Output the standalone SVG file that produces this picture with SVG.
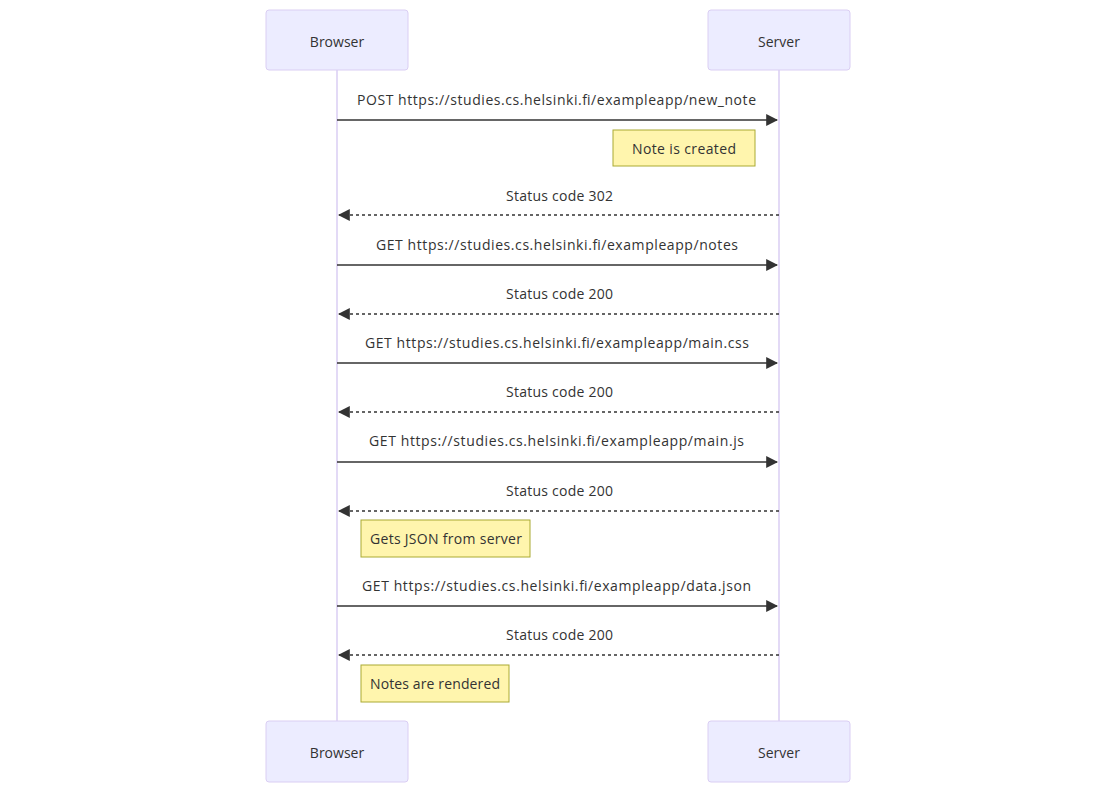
<svg xmlns="http://www.w3.org/2000/svg" width="1116" height="793" viewBox="0 0 1116 793">
  <style>
    .actor { fill: #ECECFF; stroke: #DACEF3; stroke-width: 1; }
    .actor-text { font-family: "Open Sans", "DejaVu Sans", sans-serif; font-size: 14px; fill: #333; text-anchor: middle; dominant-baseline: central; }
    .lifeline { stroke: #DACEF3; stroke-width: 1.5; }
    .msg { stroke: #333; stroke-width: 1.5; fill: none; }
    .reply { stroke-dasharray: 3 3; }
    .msg-text { font-family: "Open Sans", "DejaVu Sans", sans-serif; font-size: 14px; fill: #333; text-anchor: middle; dominant-baseline: central; }
    .note { fill: #FFF5AD; stroke: #AAAA33; stroke-width: 1; }
    .note-text { font-family: "Open Sans", "DejaVu Sans", sans-serif; font-size: 14px; fill: #333; text-anchor: middle; dominant-baseline: central; }
  </style>
  <defs>
    <marker id="arrowhead" markerWidth="12" markerHeight="12" refX="9" refY="5" viewBox="0 0 10 10" orient="auto-start-reverse" markerUnits="userSpaceOnUse">
      <path d="M0,0 L10,5 L0,10 z" fill="#333"/>
    </marker>
  </defs>
  <rect width="1116" height="793" fill="#fff"/>

  <g id="lifelines">
    <line class="lifeline" x1="337" y1="70" x2="337" y2="721"/>
    <line class="lifeline" x1="779" y1="70" x2="779" y2="721"/>
  </g>

  <g id="browser-top">
    <rect class="actor" x="266" y="10" width="142" height="60" rx="3"/>
    <text class="actor-text" x="337" y="41">Browser</text>
  </g>
  <g id="server-top">
    <rect class="actor" x="708" y="10" width="142" height="60" rx="3"/>
    <text class="actor-text" x="779" y="41">Server</text>
  </g>
  <g id="browser-bottom">
    <rect class="actor" x="266" y="721" width="142" height="61" rx="3"/>
    <text class="actor-text" x="337" y="752">Browser</text>
  </g>
  <g id="server-bottom">
    <rect class="actor" x="708" y="721" width="142" height="61" rx="3"/>
    <text class="actor-text" x="779" y="752">Server</text>
  </g>

  <g id="connectors">
    <line class="msg" x1="337" y1="120" x2="777" y2="120" marker-end="url(#arrowhead)"/>
    <line class="msg reply" x1="779" y1="215" x2="339" y2="215" marker-end="url(#arrowhead)"/>
    <line class="msg" x1="337" y1="265" x2="777" y2="265" marker-end="url(#arrowhead)"/>
    <line class="msg reply" x1="779" y1="314" x2="339" y2="314" marker-end="url(#arrowhead)"/>
    <line class="msg" x1="337" y1="363" x2="777" y2="363" marker-end="url(#arrowhead)"/>
    <line class="msg reply" x1="779" y1="412" x2="339" y2="412" marker-end="url(#arrowhead)"/>
    <line class="msg" x1="337" y1="462" x2="777" y2="462" marker-end="url(#arrowhead)"/>
    <line class="msg reply" x1="779" y1="511" x2="339" y2="511" marker-end="url(#arrowhead)"/>
    <line class="msg" x1="337" y1="606" x2="777" y2="606" marker-end="url(#arrowhead)"/>
    <line class="msg reply" x1="779" y1="655" x2="339" y2="655" marker-end="url(#arrowhead)"/>
  </g>

  <g id="message-labels">
    <text class="msg-text" x="556.5" y="99" textLength="399" lengthAdjust="spacing">POST https://studies.cs.helsinki.fi/exampleapp/new_note</text>
    <text class="msg-text" x="559.5" y="195" textLength="107" lengthAdjust="spacing">Status code 302</text>
    <text class="msg-text" x="557" y="244" textLength="362" lengthAdjust="spacing">GET https://studies.cs.helsinki.fi/exampleapp/notes</text>
    <text class="msg-text" x="559.5" y="293" textLength="107" lengthAdjust="spacing">Status code 200</text>
    <text class="msg-text" x="557" y="342" textLength="384" lengthAdjust="spacing">GET https://studies.cs.helsinki.fi/exampleapp/main.css</text>
    <text class="msg-text" x="559.5" y="391" textLength="107" lengthAdjust="spacing">Status code 200</text>
    <text class="msg-text" x="556.5" y="440" textLength="375" lengthAdjust="spacing">GET https://studies.cs.helsinki.fi/exampleapp/main.js</text>
    <text class="msg-text" x="559.5" y="490" textLength="107" lengthAdjust="spacing">Status code 200</text>
    <text class="msg-text" x="556.5" y="585" textLength="389" lengthAdjust="spacing">GET https://studies.cs.helsinki.fi/exampleapp/data.json</text>
    <text class="msg-text" x="559.5" y="634" textLength="107" lengthAdjust="spacing">Status code 200</text>
  </g>

  <g id="note-created">
    <rect class="note" x="613" y="130" width="142" height="36"/>
    <text class="note-text" x="684" y="148" textLength="104" lengthAdjust="spacing">Note is created</text>
  </g>
  <g id="note-json">
    <rect class="note" x="361" y="520" width="169" height="37"/>
    <text class="note-text" x="446" y="538" textLength="152" lengthAdjust="spacing">Gets JSON from server</text>
  </g>
  <g id="note-rendered">
    <rect class="note" x="361" y="665" width="148" height="37"/>
    <text class="note-text" x="435" y="683" textLength="130" lengthAdjust="spacing">Notes are rendered</text>
  </g>
</svg>
